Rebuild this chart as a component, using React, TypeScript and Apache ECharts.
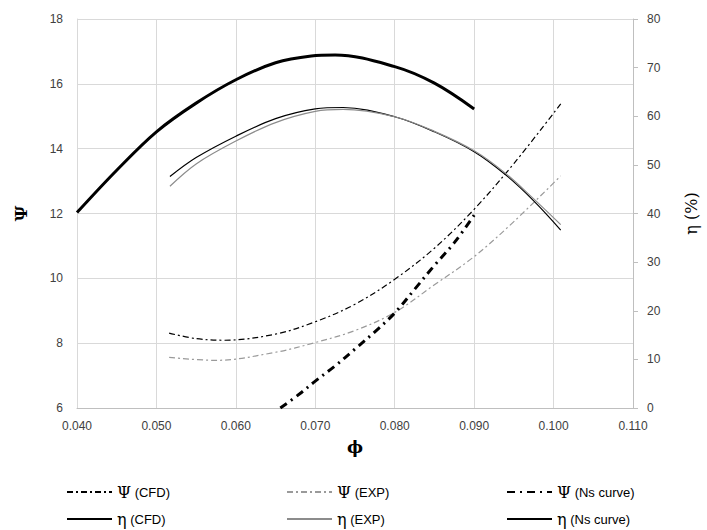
import React, { useEffect, useRef } from "react";
import * as echarts from "echarts";

// Ψ (CFD)
const psiCfdX = [0.0516, 0.055, 0.0585, 0.065, 0.07, 0.075, 0.08, 0.085, 0.09, 0.095, 0.1009];
const psiCfdY = [8.31, 8.14, 8.09, 8.28, 8.66, 9.2, 9.97, 10.93, 12.13, 13.54, 15.38];
// Ψ (EXP)
const psiExpX = [0.0516, 0.0575, 0.065, 0.07, 0.075, 0.08, 0.085, 0.09, 0.095, 0.1009];
const psiExpY = [7.56, 7.47, 7.72, 8.02, 8.39, 8.95, 9.8, 10.67, 11.75, 13.16];
// Ψ (Ns curve)
const psiNsX = [0.0656, 0.068, 0.07, 0.0725, 0.075, 0.0775, 0.08, 0.0825, 0.085, 0.0875, 0.09];
const psiNsY = [6.0, 6.43, 6.83, 7.3, 7.82, 8.35, 8.93, 9.66, 10.4, 11.1, 11.95];
// η (CFD)
const etaCfdX = [0.0517, 0.055, 0.06, 0.065, 0.07, 0.0735, 0.08, 0.085, 0.09, 0.094, 0.0975, 0.1009];
const etaCfdY = [47.6, 51.5, 55.9, 59.5, 61.5, 61.8, 59.9, 56.8, 52.7, 47.9, 42.6, 36.6];
// η (EXP)
const etaExpX = [0.0517, 0.055, 0.06, 0.065, 0.07, 0.0735, 0.08, 0.085, 0.09, 0.094, 0.0975, 0.1009];
const etaExpY = [45.6, 50.2, 54.9, 58.7, 61.0, 61.4, 59.9, 56.9, 52.9, 48.2, 43.0, 37.7];
// η (Ns curve)
const etaNsX = [0.04, 0.045, 0.05, 0.055, 0.06, 0.065, 0.0695, 0.0725, 0.08, 0.085, 0.09];
const etaNsY = [40.2, 48.9, 56.8, 62.7, 67.5, 71.0, 72.4, 72.6, 70.2, 66.8, 61.5];

const seriesNames = ["Ψ (CFD)", "Ψ (EXP)", "Ψ (Ns curve)", "η (CFD)", "η (EXP)", "η (Ns curve)"];

const zip = (xs: number[], ys: number[]) => xs.map((x, i) => [x, ys[i]]);

export default function App() {
  const ref = useRef<HTMLDivElement>(null);
  useEffect(() => {
    if (!ref.current) return;
    const chart = echarts.init(ref.current, undefined, { renderer: "svg" });
    const labelColor = "#404040";
    const fontFamily = "'Liberation Sans', Arial, sans-serif";
    const legendRich = {
      g: { fontFamily: "'DejaVu Serif', 'Liberation Serif', serif", fontSize: 16, color: "#000" },
      t: { fontFamily, fontSize: 13, color: "#000" },
    };
    const fmt = (name: string) => {
      const sym = name.charAt(0);
      const rest = name.slice(1);
      return `{g|${sym}}{t|${rest}}`;
    };
    const legendPos = [
      { left: 66, top: 484 },
      { left: 286, top: 484 },
      { left: 506, top: 484 },
      { left: 66, top: 511 },
      { left: 286, top: 511 },
      { left: 506, top: 511 },
    ];
    const SM = 0.35;
    const option: any = {
      animation: false,
      backgroundColor: "#fff",
      grid: { left: 77, right: 72, top: 19, bottom: 122, containLabel: false },
      legend: seriesNames.map((n, i) => ({
        data: [n],
        left: legendPos[i].left,
        top: legendPos[i].top,
        padding: 0,
        itemWidth: 45,
        itemHeight: 14,
        itemGap: 8,
        formatter: fmt,
        textStyle: { rich: legendRich },
        itemStyle: { opacity: 0 },
        selectedMode: false,
      })),
      xAxis: {
        type: "value",
        min: 0.04,
        max: 0.11,
        interval: 0.01,
        name: "ϕ",
        nameLocation: "middle",
        nameGap: 30,
        nameTextStyle: { fontFamily: "'DejaVu Serif', serif", fontSize: 17, fontWeight: "bold", color: "#000" },
        axisLine: { show: true, lineStyle: { color: "#bfbfbf", width: 1 } },
        axisTick: { show: false },
        axisLabel: {
          formatter: (v: number) => v.toFixed(3),
          color: labelColor,
          fontFamily,
          fontSize: 12,
          margin: 12,
        },
        splitLine: { show: true, lineStyle: { color: "#d9d9d9", width: 1 } },
      },
      yAxis: [
        {
          type: "value",
          min: 6,
          max: 18,
          interval: 2,
          name: "Ψ",
          nameLocation: "middle",
          nameRotate: 90,
          nameGap: 48,
          nameTextStyle: { fontFamily: "'DejaVu Serif', serif", fontSize: 17, fontWeight: "bold", color: "#000" },
          axisLine: { show: true, lineStyle: { color: "#d9d9d9", width: 1 } },
          axisTick: { show: false },
          axisLabel: { color: labelColor, fontFamily, fontSize: 12, margin: 14 },
          splitLine: { show: true, lineStyle: { color: "#d9d9d9", width: 1 } },
        },
        {
          type: "value",
          min: 0,
          max: 80,
          interval: 10,
          position: "right",
          name: "η (%)",
          nameLocation: "middle",
          nameRotate: 90,
          nameGap: 50,
          nameTextStyle: { fontFamily: "'DejaVu Serif', serif", fontSize: 16, color: "#000" },
          axisLine: { show: true, lineStyle: { color: "#bfbfbf", width: 1 } },
          axisTick: { show: true, length: 5, lineStyle: { color: "#bfbfbf" } },
          axisLabel: { color: labelColor, fontFamily, fontSize: 12, margin: 14 },
          splitLine: { show: false },
        },
      ],
      series: [
        {
          name: seriesNames[0],
          type: "line",
          yAxisIndex: 0,
          data: zip(psiCfdX, psiCfdY),
          smooth: SM,
          symbol: "none",
          lineStyle: { color: "#000", width: 1.2, type: [6, 3, 2, 3] },
          itemStyle: { color: "#000" },
        },
        {
          name: seriesNames[1],
          type: "line",
          yAxisIndex: 0,
          data: zip(psiExpX, psiExpY),
          smooth: SM,
          symbol: "none",
          lineStyle: { color: "#9a9a9a", width: 1.2, type: [6, 3, 2, 3] },
          itemStyle: { color: "#9a9a9a" },
        },
        {
          name: seriesNames[2],
          type: "line",
          yAxisIndex: 0,
          data: zip(psiNsX, psiNsY),
          smooth: SM,
          symbol: "none",
          lineStyle: { color: "#000", width: 3, type: [8, 5, 2, 5] },
          itemStyle: { color: "#000" },
        },
        {
          name: seriesNames[3],
          type: "line",
          yAxisIndex: 1,
          data: zip(etaCfdX, etaCfdY),
          smooth: SM,
          symbol: "none",
          lineStyle: { color: "#000", width: 1.2 },
          itemStyle: { color: "#000" },
        },
        {
          name: seriesNames[4],
          type: "line",
          yAxisIndex: 1,
          data: zip(etaExpX, etaExpY),
          smooth: SM,
          symbol: "none",
          lineStyle: { color: "#8c8c8c", width: 1.2 },
          itemStyle: { color: "#8c8c8c" },
        },
        {
          name: seriesNames[5],
          type: "line",
          yAxisIndex: 1,
          data: zip(etaNsX, etaNsY),
          smooth: SM,
          symbol: "none",
          lineStyle: { color: "#000", width: 3 },
          itemStyle: { color: "#000" },
        },
      ],
    };
    chart.setOption(option);
    return () => chart.dispose();
  }, []);
  return (
    <div
      ref={ref}
      style={{ position: "fixed", left: 0, top: 0, width: 707, height: 530, background: "#fff" }}
    />
  );
}
